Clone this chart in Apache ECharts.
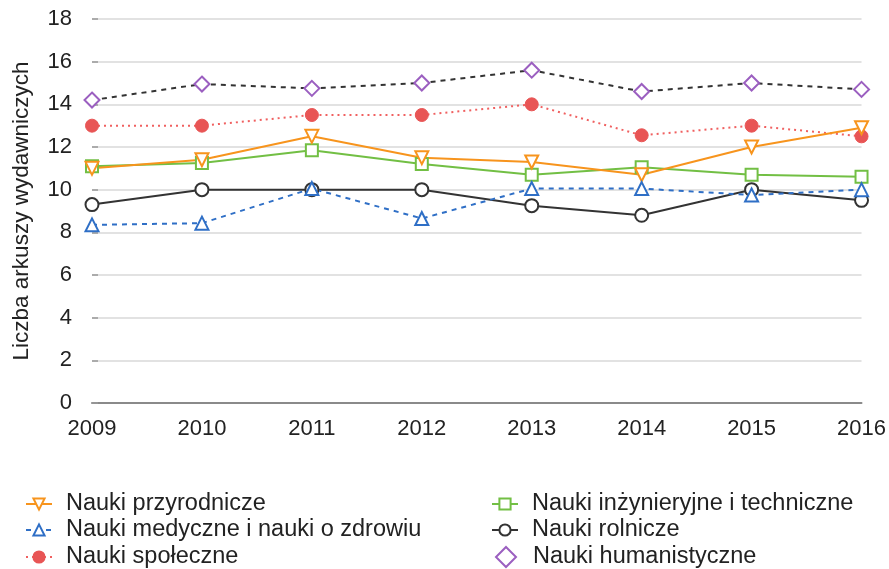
<!DOCTYPE html>
<html><head><meta charset="utf-8">
<script src="https://cdn.jsdelivr.net/npm/echarts@6/dist/echarts.min.js"></script>
<style>html,body{margin:0;padding:0;background:#fff}#c{width:889px;height:569px}</style>
</head><body><div id="c"></div>
<script>
const years = ['2009','2010','2011','2012','2013','2014','2015','2016'];
const przyrodnicze = [11.0, 11.4, 12.5, 11.5, 11.3, 10.7, 12.0, 12.9];
const medyczne = [8.35, 8.43, 10.05, 8.65, 10.05, 10.05, 9.75, 10.0];
const spoleczne = [13.0, 13.0, 13.5, 13.5, 14.0, 12.55, 13.0, 12.5];
const inzynieryjne = [11.1, 11.25, 11.85, 11.2, 10.7, 11.05, 10.7, 10.6];
const rolnicze = [9.3, 10.0, 10.0, 10.0, 9.25, 8.8, 10.0, 9.5];
const humanistyczne = [14.2, 14.95, 14.75, 15.0, 15.6, 14.6, 15.0, 14.7];
const yTicks = [0, 2, 4, 6, 8, 10, 12, 14, 16, 18];

const font = 'Liberation Sans, Arial, sans-serif';
function s(name, data, color, lineColor, type, symbol, opts) {
  return Object.assign({
    name, type: 'line', data, symbol, symbolSize: 13,
    lineStyle: { color: lineColor, width: 2, type },
    itemStyle: { color: '#fff', borderColor: color, borderWidth: 2 },
    emphasis: { disabled: true }, z: 3
  }, opts || {});
}
function leg(name, left, centerY, icon, w, pad) {
  const item = icon ? { name, icon } : name;
  return {
    left, top: centerY - 13, orient: 'vertical', itemWidth: w || 26, itemHeight: icon ? w : 14,
    textStyle: { fontSize: 23.5, color: '#222', fontFamily: font, padding: [0, 0, 0, pad == null ? 9 : pad] },
    data: [item], selectedMode: false
  };
}
const rows = [500, 526, 553];
const chart = echarts.init(document.getElementById('c'));
chart.setOption({
  animation: false,
  textStyle: { fontFamily: font },
  grid: { left: 92, right: 27, top: 19, bottom: 166 },
  xAxis: {
    type: 'category', data: years, boundaryGap: false,
    axisLine: { show: true, lineStyle: { color: '#8a8a8a', width: 2 } },
    axisTick: { show: false },
    axisLabel: { color: '#222', fontSize: 22, margin: 15, fontFamily: font }
  },
  yAxis: {
    type: 'value', min: 0, max: 18, interval: 2,
    name: 'Liczba arkuszy wydawniczych', nameLocation: 'middle', nameGap: 59,
    nameTextStyle: { color: '#222', fontSize: 22.5, fontFamily: font },
    axisLine: { show: false },
    axisTick: { show: true, inside: true, length: 6, lineStyle: { color: '#999', width: 1.5 } },
    axisLabel: { color: '#222', fontSize: 22, margin: 20, fontFamily: font,
      formatter: v => yTicks.includes(v) ? String(v) : '' },
    splitLine: { lineStyle: { color: '#d8d8d8', width: 1.5 } }
  },
  legend: [
    leg('Nauki przyrodnicze', 20, rows[0]),
    leg('Nauki medyczne i nauki o zdrowiu', 20, rows[1]),
    leg('Nauki społeczne', 20, rows[2]),
    leg('Nauki inżynieryjne i techniczne', 486, rows[0]),
    leg('Nauki rolnicze', 486, rows[1]),
    leg('Nauki humanistyczne', 490, rows[2], 'diamond', 20, 12)
  ],
  series: [
    s('Nauki humanistyczne', humanistyczne, '#9b5fc0', '#333', [5, 5], 'diamond', { symbolSize: 15 }),
    s('Nauki społeczne', spoleczne, '#e85555', '#f06060', [2, 4], 'circle',
      { itemStyle: { color: '#e85555', borderColor: '#e85555', borderWidth: 1 } }),
    s('Nauki inżynieryjne i techniczne', inzynieryjne, '#72bf44', '#72bf44', 'solid', 'rect', { symbolSize: 12 }),
    s('Nauki przyrodnicze', przyrodnicze, '#f7941d', '#f7941d', 'solid', 'triangle', { symbolRotate: 180 }),
    s('Nauki rolnicze', rolnicze, '#333', '#333', 'solid', 'circle'),
    s('Nauki medyczne i nauki o zdrowiu', medyczne, '#2f6fc6', '#2f6fc6', [5, 5], 'triangle')
  ]
});
</script></body></html>
